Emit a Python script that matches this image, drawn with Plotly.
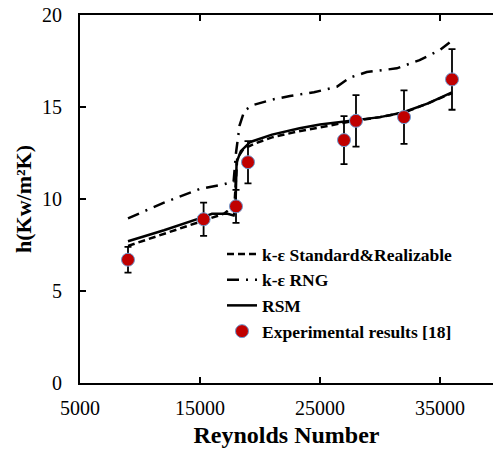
import plotly.graph_objects as go

# Heat transfer coefficient vs Reynolds number: CFD turbulence models and experiment
re_std = [9000, 12000, 15200, 17000, 17700, 17900, 18100, 18600, 19500, 21000, 23000, 25000, 27900, 30000, 32000, 34000, 36000]
h_std = [7.45, 8.1, 8.8, 9.2, 9.55, 10.0, 12.2, 12.7, 13.0, 13.35, 13.65, 13.9, 14.25, 14.45, 14.7, 15.2, 15.75]

re_rng = [9000, 12000, 15000, 17000, 17800, 18000, 18300, 18700, 19400, 21000, 22500, 24500, 26400, 27500, 28900, 31400, 33300, 35000, 35800]
h_rng = [8.95, 9.8, 10.55, 10.8, 10.95, 12.5, 14.0, 14.8, 15.1, 15.4, 15.6, 15.8, 16.1, 16.6, 16.9, 17.1, 17.55, 18.1, 18.5]

re_rsm = [9000, 12000, 15200, 16000, 17300, 17800, 17950, 18050, 18400, 19200, 21000, 23300, 25000, 27900, 30000, 31900, 34000, 36000]
h_rsm = [7.7, 8.3, 9.0, 9.2, 9.2, 9.1, 9.4, 12.0, 12.6, 13.1, 13.5, 13.85, 14.05, 14.3, 14.45, 14.7, 15.2, 15.8]

re_exp = [9000, 15300, 18000, 19000, 27000, 28000, 32000, 36000]
h_exp = [6.7, 8.9, 9.6, 12.0, 13.2, 14.25, 14.45, 16.5]
err_exp = [0.7, 0.9, 0.9, 1.15, 1.3, 1.4, 1.45, 1.65]

x_ticks = [5000, 15000, 25000, 35000]
y_ticks = [0, 5, 10, 15, 20]

SERIF = "Liberation Serif, Times New Roman, serif"

fig = go.Figure()
fig.add_trace(go.Scatter(
    x=re_std, y=h_std, mode="lines", name="k-ε Standard&Realizable",
    line=dict(color="black", width=2.5, dash="7px,4px"),
))
fig.add_trace(go.Scatter(
    x=re_rng, y=h_rng, mode="lines", name="k-ε RNG",
    line=dict(color="black", width=2.5, dash="12px,7px,2px,7px"),
))
fig.add_trace(go.Scatter(
    x=re_rsm, y=h_rsm, mode="lines", name="RSM",
    line=dict(color="black", width=2.5),
))
fig.add_trace(go.Scatter(
    x=re_exp, y=h_exp, mode="markers", name="Experimental results [18]",
    marker=dict(color="#C00000", size=13, line=dict(color="#6C9BD2", width=1)),
    error_y=dict(type="data", array=err_exp, color="black", thickness=1.8, width=3.5),
))

fig.update_layout(
    width=493, height=453,
    margin=dict(l=80, r=0, t=15, b=70),
    plot_bgcolor="white", paper_bgcolor="white",
    font=dict(family=SERIF, color="black"),
    showlegend=True,
    legend=dict(
        x=(222 - 80) / 413, y=(383 - 236) / 368, xanchor="left", yanchor="top",
        bgcolor="rgba(0,0,0,0)", borderwidth=0,
        font=dict(family=SERIF, size=17.5, color="black", weight="bold"),
        traceorder="normal", tracegroupgap=0,
    ),
    xaxis=dict(
        range=[5000, 5000 + 413 / 0.012], tickvals=x_ticks,
        ticktext=[str(v) for v in x_ticks],
        showline=True, linecolor="black", linewidth=2, mirror="ticks",
        ticks="inside", ticklen=6, tickwidth=2, tickcolor="black",
        showgrid=False, zeroline=False, ticklabelstandoff=6,
        tickfont=dict(family=SERIF, size=20, color="black"),
        title=dict(text="<b>Reynolds Number</b>",
                   font=dict(family=SERIF, size=24, color="black"), standoff=8),
    ),
    yaxis=dict(
        range=[0, 20], tickvals=y_ticks,
        showline=True, linecolor="black", linewidth=2, mirror=False,
        ticks="inside", ticklen=6, tickwidth=2, tickcolor="black",
        showgrid=False, zeroline=False, ticklabelstandoff=12,
        tickfont=dict(family=SERIF, size=20, color="black"),
        title=dict(text="<b>h(Kw/m²K)</b>",
                   font=dict(family=SERIF, size=22, color="black"), standoff=4),
    ),
)

fig.write_html("out.html")
